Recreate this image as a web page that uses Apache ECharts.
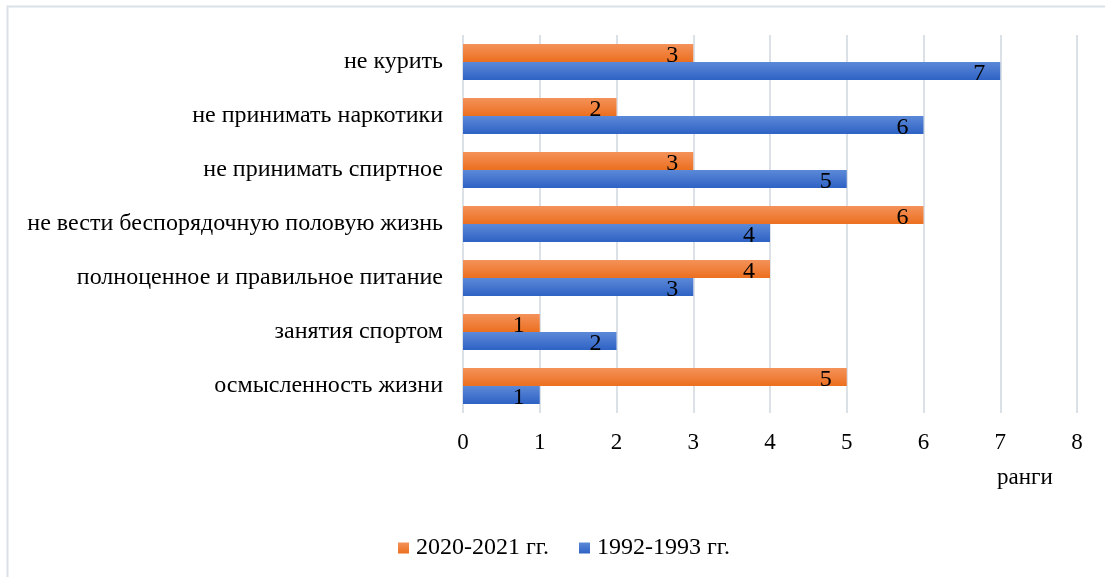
<!DOCTYPE html>
<html>
<head>
<meta charset="utf-8">
<script src="https://cdn.jsdelivr.net/npm/echarts@6/dist/echarts.min.js"></script>
<style>
html,body{margin:0;padding:0;background:#fff;}
#main{width:1105px;height:577px;}
</style>
</head>
<body>
<div id="main"></div>
<script>
// категории снизу вверх
var categories = ['осмысленность жизни', 'занятия спортом', 'полноценное и правильное питание',
    'не вести беспорядочную половую жизнь', 'не принимать спиртное', 'не принимать наркотики', 'не курить'];
var ranks1992 = [1, 2, 3, 4, 5, 6, 7];
var ranks2020 = [5, 1, 4, 6, 3, 2, 3];
var xTicks = [0, 8, 1];

var font = '"Liberation Serif", "Times New Roman", serif';

function grad(top, bottom) {
    return new echarts.graphic.LinearGradient(0, 0, 0, 1, [
        {offset: 0, color: top},
        {offset: 1, color: bottom}
    ]);
}

var barLabel = {show: true, position: 'insideRight', offset: [0, 3], distance: 15,
    fontFamily: font, fontSize: 24, color: '#000'};

var myChart = echarts.init(document.getElementById('main'));
var option = {
    animation: false,
    textStyle: {fontFamily: font},
    grid: {left: 463, right: 28, top: 35, bottom: 164},
    legend: {
        data: ['2020-2021 гг.', '1992-1993 гг.'],
        bottom: 12,
        left: 393,
        icon: 'rect',
        itemWidth: 11,
        itemHeight: 11,
        itemGap: 30,
        textStyle: {fontFamily: font, fontSize: 24, color: '#000', padding: [0, 0, 0, 2]}
    },
    xAxis: {
        type: 'value',
        min: xTicks[0],
        max: xTicks[1],
        interval: xTicks[2],
        axisLine: {show: false},
        axisTick: {show: false},
        splitLine: {lineStyle: {color: '#DCE1E8', width: 2}},
        axisLabel: {fontFamily: font, fontSize: 23, color: '#000', margin: 18}
    },
    yAxis: {
        type: 'category',
        data: categories,
        axisLine: {show: false},
        axisTick: {show: false},
        axisLabel: {fontFamily: font, fontSize: 24, color: '#000', margin: 20}
    },
    series: [{
        name: '2020-2021 гг.',
        type: 'bar',
        data: ranks2020,
        barWidth: 18,
        barGap: '0%',
        barCategoryGap: '31%',
        itemStyle: {color: grad('#F4925A', '#EC6F1F')},
        label: barLabel
    }, {
        name: '1992-1993 гг.',
        type: 'bar',
        data: ranks1992,
        barWidth: 18,
        barGap: '0%',
        barCategoryGap: '31%',
        itemStyle: {color: grad('#5C89D8', '#2E62C4')},
        label: barLabel
    }],
    graphic: [{
        type: 'rect',
        shape: {x: 7.5, y: 6.5, width: 1110, height: 580},
        style: {fill: 'none', stroke: '#DCE1E8', lineWidth: 2}
    }, {
        type: 'text',
        left: 997,
        top: 466,
        style: {text: 'ранги', fontFamily: font, fontSize: 23, fill: '#000'}
    }]
};
myChart.setOption(option);
</script>
</body>
</html>
